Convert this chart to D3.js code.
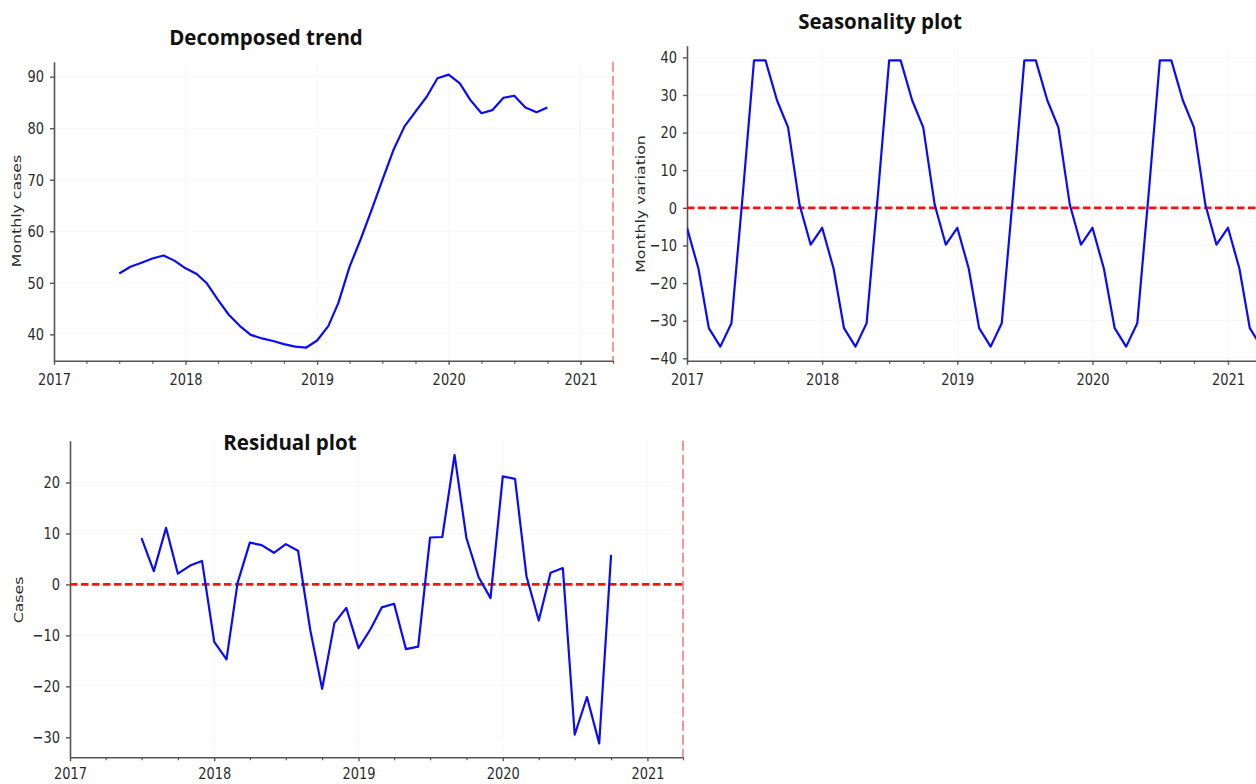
<!DOCTYPE html>
<html>
<head>
<meta charset="utf-8">
<script src="https://cdn.jsdelivr.net/npm/d3@7"></script>
<style>
  html, body { margin: 0; padding: 0; background: #fff; }
  svg { display: block; }
</style>
</head>
<body>
<svg id="chart" width="1256" height="784"></svg>
<script>
// ---- Data -------------------------------------------------------------
// Trend component, monthly from Jul 2017 to Oct 2020
const trendStart = "2017-07";
const trendValues = [
  51.8, 53.1, 53.9, 54.7, 55.3, 54.3,
  52.8, 51.7, 49.9, 46.7, 43.8, 41.6, 39.9, 39.2, 38.7, 38.1, 37.6, 37.4,
  38.8, 41.6, 46.1, 53.1, 58.3, 64.1, 69.9, 75.8, 80.4, 83.2, 86.1, 89.7,
  90.4, 88.7, 85.5, 82.9, 83.5, 85.9, 86.3, 84.0, 83.1, 84.0
];

// Seasonal component, monthly from Jan 2017 to Apr 2021
const seasonStart = "2017-01";
const seasonValues = [
  -5.3, -16.2, -32.0, -36.9, -30.7, 4.0, 39.2, 39.2, 28.6, 21.4, 0.8, -9.8,
  -5.3, -16.2, -32.0, -36.9, -30.7, 4.0, 39.2, 39.2, 28.6, 21.4, 0.8, -9.8,
  -5.3, -16.2, -32.0, -36.9, -30.7, 4.0, 39.2, 39.2, 28.6, 21.4, 0.8, -9.8,
  -5.3, -16.2, -32.0, -36.9, -30.7, 4.0, 39.2, 39.2, 28.6, 21.4, 0.8, -9.8,
  -5.3, -16.2, -32.0, -36.9
];

// Residual component, monthly from Jul 2017 to Oct 2020
const residStart = "2017-07";
const residValues = [
  9.1, 2.6, 11.1, 2.1, 3.7, 4.6,
  -11.3, -14.7, 0.3, 8.2, 7.7, 6.2, 7.9, 6.6, -9.0, -20.5, -7.6, -4.6,
  -12.5, -8.7, -4.5, -3.8, -12.7, -12.2, 9.2, 9.3, 25.4, 9.1, 1.4, -2.7,
  21.2, 20.7, 1.6, -7.1, 2.3, 3.2, -29.5, -22.1, -31.2, 5.8
];

const trendTicks = [40, 50, 60, 70, 80, 90];
const seasonTicks = [-40, -30, -20, -10, 0, 10, 20, 30, 40];
const residTicks = [-30, -20, -10, 0, 10, 20];

const titles = ["Decomposed trend", "Seasonality plot", "Residual plot"];
const yLabels = ["Monthly cases", "Monthly variation", "Cases"];

// ---- Helpers ----------------------------------------------------------
const parseMonth = d3.timeParse("%Y-%m");
const xStart = parseMonth("2017-01");
const xEnd = parseMonth("2021-04");
const stretch = 1.27;              // glyphs are drawn slightly tall
const tickFont = "'DejaVu Sans', sans-serif";
const titleFont = "'Open Sans', Lato, sans-serif";

function monthSeries(start, values) {
  const s = parseMonth(start);
  return values.map((v, i) => ({ date: d3.timeMonth.offset(s, i), value: v }));
}

const svg = d3.select("#chart");
let clipId = 0;

function drawPanel(cfg) {
  const x = d3.scaleTime().domain([xStart, xEnd]).range([cfg.left, cfg.right]);
  const y = d3.scaleLinear().domain(cfg.yDomain).range([cfg.bottom, cfg.top]);
  const g = svg.append("g");

  const id = "clip" + (clipId++);
  svg.append("clipPath").attr("id", id)
    .append("rect")
    .attr("x", cfg.left).attr("y", cfg.top - 5)
    .attr("width", cfg.right - cfg.left).attr("height", cfg.bottom - cfg.top + 5);

  // very faint grid
  const grid = g.append("g").attr("clip-path", `url(#${id})`);
  grid.selectAll("line.gy").data(cfg.yTicks).join("line")
    .attr("x1", cfg.left).attr("x2", cfg.right)
    .attr("y1", d => y(d)).attr("y2", d => y(d))
    .attr("stroke", "#f7f7f7").attr("stroke-width", 1);
  grid.selectAll("line.gx").data(x.ticks(d3.timeYear.every(1))).join("line")
    .attr("x1", d => x(d)).attr("x2", d => x(d))
    .attr("y1", cfg.top).attr("y2", cfg.bottom)
    .attr("stroke", "#f7f7f7").attr("stroke-width", 1);

  // bottom axis: yearly labels, quarterly minor ticks
  const minor = d3.timeMonth.every(3).range(xStart, d3.timeDay.offset(xEnd, 1))
    .filter(d => d.getMonth() !== 0);
  const axMinor = g.append("g").attr("transform", `translate(0,${cfg.bottom})`)
    .call(d3.axisBottom(x).tickValues(minor).tickSize(3).tickSizeOuter(0).tickFormat(""));
  axMinor.select(".domain").remove();
  axMinor.selectAll("line").attr("stroke", "#555").attr("stroke-width", 1.2);

  const axX = g.append("g").attr("transform", `translate(0,${cfg.bottom})`)
    .call(d3.axisBottom(x).ticks(d3.timeYear.every(1)).tickFormat(d3.timeFormat("%Y"))
      .tickSize(4).tickSizeOuter(0));
  axX.select(".domain").attr("stroke", "#555").attr("stroke-width", 1.6);
  axX.selectAll("line").attr("stroke", "#555").attr("stroke-width", 1.4);
  axX.selectAll("text")
    .attr("y", 0).attr("dy", "0.73em")
    .attr("transform", `translate(0,${cfg.labelOffset}) scale(1,${stretch})`)
    .attr("font-family", tickFont).attr("font-size", 13).attr("fill", "#2b2b2b");

  // left axis
  const axY = g.append("g").attr("transform", `translate(${cfg.left},0)`)
    .call(d3.axisLeft(y).tickValues(cfg.yTicks).tickSize(4).tickPadding(6).tickSizeOuter(0));
  axY.select(".domain").attr("stroke", "#555").attr("stroke-width", 1.6);
  axY.selectAll("line").attr("stroke", "#555").attr("stroke-width", 1.4);
  axY.selectAll("text")
    .attr("transform", `scale(1,${stretch})`)
    .attr("font-family", tickFont).attr("font-size", 13).attr("fill", "#2b2b2b");

  // reference lines
  if (cfg.zeroLine) {
    g.append("line")
      .attr("clip-path", `url(#${id})`)
      .attr("x1", cfg.left).attr("x2", cfg.right)
      .attr("y1", y(0)).attr("y2", y(0))
      .attr("stroke", "#ff1010").attr("stroke-width", 2.6)
      .attr("stroke-dasharray", "7.5,3.5");
  }
  if (cfg.endLine) {
    g.append("line")
      .attr("x1", x(xEnd)).attr("x2", x(xEnd))
      .attr("y1", cfg.top).attr("y2", cfg.bottom)
      .attr("stroke", "#f36a6a").attr("stroke-width", 1.4)
      .attr("stroke-dasharray", "10,4");
  }

  // series
  const line = d3.line().x(d => x(d.date)).y(d => y(d.value));
  g.append("path")
    .datum(cfg.data)
    .attr("clip-path", `url(#${id})`)
    .attr("d", line)
    .attr("fill", "none")
    .attr("stroke", "#0a0aff")
    .attr("stroke-width", 2.2)
    .attr("stroke-linejoin", "round");

  // title
  svg.append("text")
    .attr("x", cfg.titleX).attr("y", cfg.titleY)
    .attr("text-anchor", "middle")
    .attr("font-family", titleFont).attr("font-weight", 700).attr("font-size", 20.5)
    .attr("fill", "#111")
    .text(cfg.title);

  // y label
  svg.append("text")
    .attr("transform", `translate(${cfg.yLabelX},${cfg.yLabelY}) rotate(-90) scale(${stretch},1)`)
    .attr("text-anchor", "middle")
    .attr("font-family", tickFont).attr("font-size", 12.4).attr("fill", "#2b2b2b")
    .text(cfg.yLabel);
}

drawPanel({
  left: 54, right: 613, top: 61.7, bottom: 360.7,
  yDomain: [34.88, 92.9], yTicks: trendTicks, labelOffset: 12,
  data: monthSeries(trendStart, trendValues),
  zeroLine: false, endLine: true,
  title: titles[0], titleX: 266, titleY: 45,
  yLabel: yLabels[0], yLabelX: 20.5, yLabelY: 211
});

drawPanel({
  left: 687, right: 1261.3, top: 45.7, bottom: 360.7,
  yDomain: [-40.64, 43.1], yTicks: seasonTicks, labelOffset: 12,
  data: monthSeries(seasonStart, seasonValues),
  zeroLine: true, endLine: false,
  title: titles[1], titleX: 880, titleY: 29,
  yLabel: yLabels[1], yLabelX: 645, yLabelY: 204
});

drawPanel({
  left: 70, right: 683, top: 440.7, bottom: 757.3,
  yDomain: [-33.93, 28.2], yTicks: residTicks, labelOffset: 9.5,
  data: monthSeries(residStart, residValues),
  zeroLine: true, endLine: true,
  title: titles[2], titleX: 290, titleY: 450,
  yLabel: yLabels[2], yLabelX: 23, yLabelY: 600
});
</script>
</body>
</html>
